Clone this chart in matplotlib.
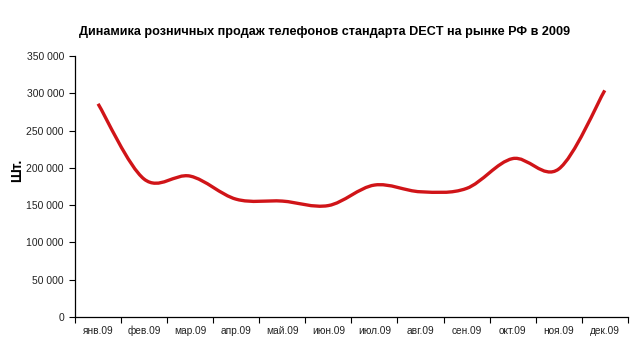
import matplotlib
matplotlib.use("Agg")

import numpy as np
import matplotlib.pyplot as plt
from matplotlib.path import Path
from matplotlib.patches import PathPatch
from matplotlib.ticker import FuncFormatter, FixedLocator

plt.rcParams['font.family'] = ['Liberation Sans', 'DejaVu Sans']

# данные
months = ['янв.09', 'фев.09', 'мар.09', 'апр.09', 'май.09', 'июн.09',
          'июл.09', 'авг.09', 'сен.09', 'окт.09', 'ноя.09', 'дек.09']
sales = [286000, 185000, 189000, 158000, 155500, 149500,
         177000, 168000, 172500, 212500, 198500, 304000]

title = 'Динамика розничных продаж телефонов стандарта DECT на рынке РФ в 2009'
ylabel = 'Шт.'


# сглаженная линия как в Excel (кривые Безье через точки)
def smooth_path(x, y):
    x = np.asarray(x, float)
    y = np.asarray(y, float)
    n = len(x)
    verts = [(x[0], y[0])]
    codes = [Path.MOVETO]
    for i in range(n - 1):
        i0 = max(i - 1, 0)
        i3 = min(i + 2, n - 1)
        c1 = (x[i] + (x[i + 1] - x[i0]) / 6, y[i] + (y[i + 1] - y[i0]) / 6)
        c2 = (x[i + 1] - (x[i3] - x[i]) / 6, y[i + 1] - (y[i3] - y[i]) / 6)
        verts += [c1, c2, (x[i + 1], y[i + 1])]
        codes += [Path.CURVE4] * 3
    return Path(verts, codes)


fig = plt.figure(figsize=(6.38, 3.55), dpi=100)
ax = fig.add_axes([0.1176, 0.107, 0.8664, 0.735])

xs = np.arange(len(months))
ax.add_patch(PathPatch(smooth_path(xs, sales), facecolor='none',
                       edgecolor='#d01418', linewidth=2.4, capstyle='butt'))

ax.set_xlim(-0.5, len(months) - 0.5)
ax.set_ylim(0, 350000)
ax.set_yticks(np.arange(0, 350001, 50000))
ax.yaxis.set_major_formatter(FuncFormatter(lambda v, p: '{:,}'.format(int(v)).replace(',', ' ')))

# метки месяцев по центру, деления между категориями
ax.xaxis.set_major_locator(FixedLocator(np.arange(-0.5, len(months), 1)))
ax.xaxis.set_major_formatter(FuncFormatter(lambda v, p: ''))
ax.xaxis.set_minor_locator(FixedLocator(xs))
ax.set_xticklabels(months, minor=True)
ax.tick_params(axis='x', which='minor', length=0, pad=12.5, labelsize=7.3, labelcolor='#222222')
ax.tick_params(axis='x', which='major', length=4, direction='out', width=0.8)
ax.tick_params(axis='y', length=4, direction='out', width=0.8, labelsize=7.5,
               labelcolor='#222222', pad=4)
for lbl in ax.get_xticklabels(minor=True):
    lbl.set_va('baseline')

for s in ['top', 'right']:
    ax.spines[s].set_visible(False)
for s in ['left', 'bottom']:
    ax.spines[s].set_linewidth(0.9)

fig.text(0.509, 0.91, title, ha='center', va='center', fontsize=9.1, fontweight='bold')
fig.text(0.027, 0.52, ylabel, ha='center', va='center', rotation=90,
         fontsize=10, fontweight='bold')

plt.savefig('out.png', dpi=100)
